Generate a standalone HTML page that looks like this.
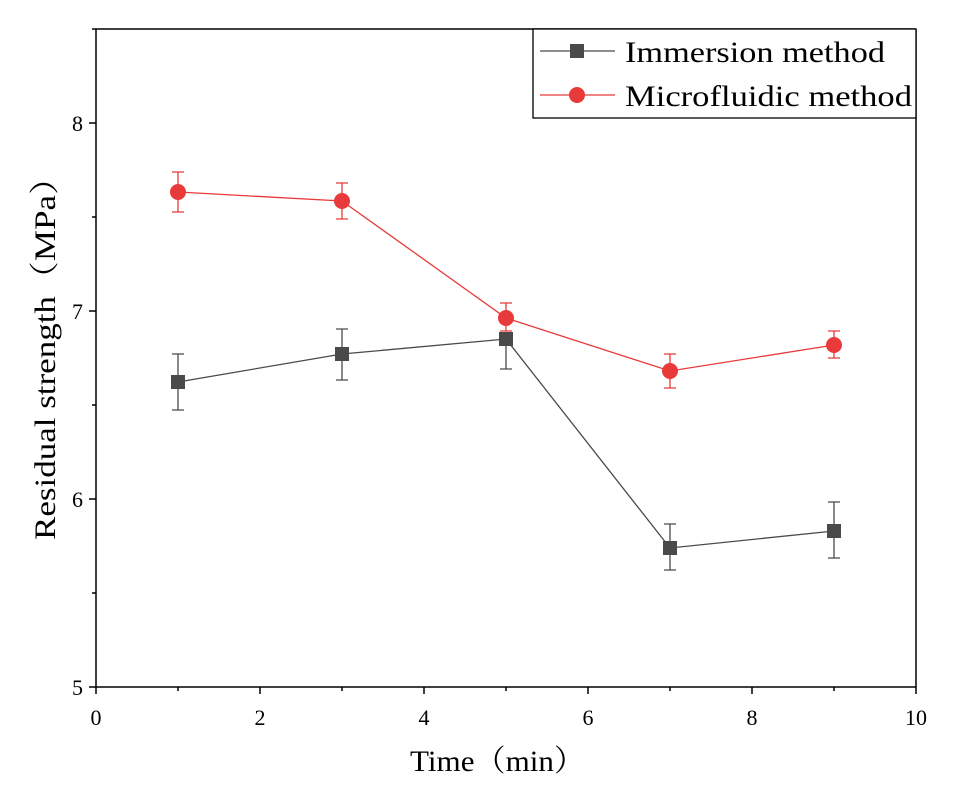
<!DOCTYPE html>
<html><head><style>body{margin:0;background:#fff}svg{display:block}</style></head><body>
<svg width="955" height="788" xmlns="http://www.w3.org/2000/svg" font-family="Liberation Serif, Noto Serif CJK SC, serif">
<g stroke="#000" stroke-width="1.5">
<line x1="96" y1="687" x2="96" y2="29"/>
<line x1="96" y1="687" x2="916" y2="687"/>
<line x1="96" y1="29" x2="916" y2="29"/>
<line x1="916" y1="29" x2="916" y2="687"/>
<line x1="96" y1="687" x2="96" y2="694"/><line x1="260" y1="687" x2="260" y2="694"/><line x1="424" y1="687" x2="424" y2="694"/><line x1="588" y1="687" x2="588" y2="694"/><line x1="752" y1="687" x2="752" y2="694"/><line x1="916" y1="687" x2="916" y2="694"/>
<line x1="178" y1="687" x2="178" y2="691"/><line x1="342" y1="687" x2="342" y2="691"/><line x1="506" y1="687" x2="506" y2="691"/><line x1="670" y1="687" x2="670" y2="691"/><line x1="834" y1="687" x2="834" y2="691"/>
<line x1="89" y1="687" x2="96" y2="687"/><line x1="89" y1="499" x2="96" y2="499"/><line x1="89" y1="311" x2="96" y2="311"/><line x1="89" y1="123" x2="96" y2="123"/>
<line x1="92" y1="593" x2="96" y2="593"/><line x1="92" y1="405" x2="96" y2="405"/><line x1="92" y1="217" x2="96" y2="217"/><line x1="92" y1="29" x2="96" y2="29"/>
</g>
<g font-size="22" text-anchor="middle" fill="#000">
<text x="96" y="725">0</text><text x="260" y="725">2</text><text x="424" y="725">4</text><text x="588" y="725">6</text><text x="752" y="725">8</text><text x="916" y="725">10</text>
</g>
<g font-size="22" text-anchor="end" fill="#000">
<text x="83" y="695">5</text><text x="83" y="507">6</text><text x="83" y="319">7</text><text x="83" y="131">8</text>
</g>
<text x="410" y="771" font-size="30" textLength="175" lengthAdjust="spacingAndGlyphs">Time（min）</text>
<text transform="translate(55,540) rotate(-90)" font-size="30" textLength="380" lengthAdjust="spacingAndGlyphs">Residual strength（MPa）</text>
<g stroke="#4a4a4a" stroke-width="1.3" fill="none">
<polyline points="178,382 342,354 506,339 670,548 834,531"/>
<path d="M178,354V410M172,354h12M172,410h12M342,329V380M336,329h12M336,380h12M506,339V369M500,369h12M670,524V570M664,524h12M664,570h12M834,502V558M828,502h12M828,558h12"/>
</g>
<g fill="#4a4a4a">
<rect x="171" y="375" width="14" height="14"/><rect x="335" y="347" width="14" height="14"/><rect x="499" y="332" width="14" height="14"/><rect x="663" y="541" width="14" height="14"/><rect x="827" y="524" width="14" height="14"/>
</g>
<g stroke="#e83a3a" stroke-width="1.3" fill="none">
<polyline points="178,192 342,201 506,318 670,371 834,345"/>
<path d="M178,172V212M172,172h12M172,212h12M342,183V219M336,183h12M336,219h12M506,303V331M500,303h12M500,331h12M670,354V388M664,354h12M664,388h12M834,331V358M828,331h12M828,358h12"/>
</g>
<g fill="#e83a3a">
<circle cx="178" cy="192" r="8"/><circle cx="342" cy="201" r="8"/><circle cx="506" cy="318" r="8"/><circle cx="670" cy="371" r="8"/><circle cx="834" cy="345" r="8"/>
</g>
<rect x="533" y="29" width="383" height="89" fill="#fff" stroke="#000" stroke-width="1.3"/>
<line x1="540" y1="51" x2="615" y2="51" stroke="#4a4a4a" stroke-width="1.3"/>
<rect x="570" y="44" width="14" height="14" fill="#4a4a4a"/>
<line x1="540" y1="95" x2="615" y2="95" stroke="#e83a3a" stroke-width="1.3"/>
<circle cx="577" cy="95" r="8" fill="#e83a3a"/>
<text x="625" y="62" font-size="30" textLength="260" lengthAdjust="spacingAndGlyphs">Immersion method</text>
<text x="625" y="106" font-size="30" textLength="287" lengthAdjust="spacingAndGlyphs">Microfluidic method</text>
</svg>
</body></html>
